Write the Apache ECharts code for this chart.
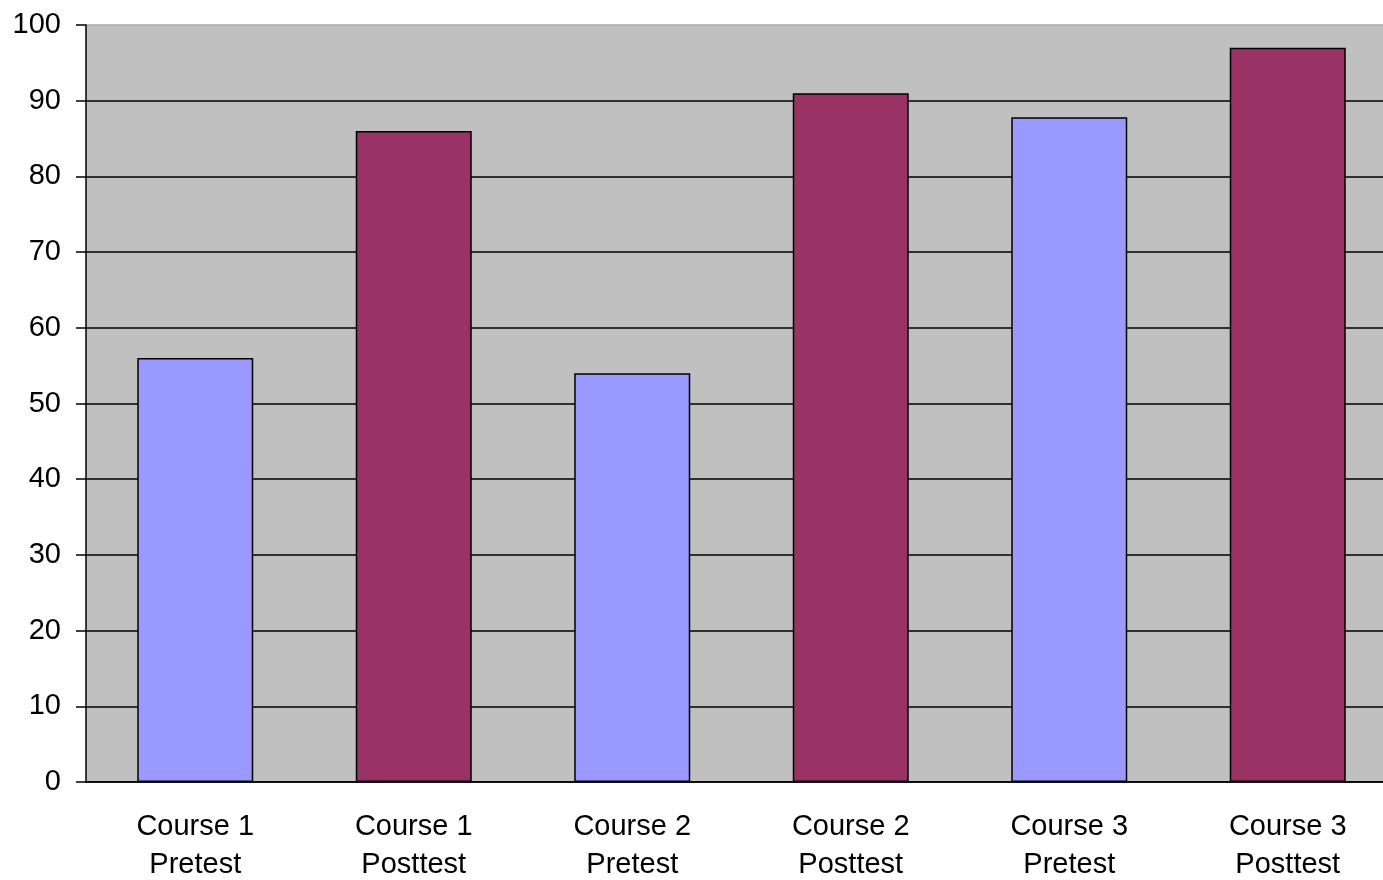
<!DOCTYPE html>
<html>
<head>
<meta charset="utf-8">
<script src="https://cdn.jsdelivr.net/npm/echarts@6/dist/echarts.min.js"></script>
<style>
  html, body { margin: 0; padding: 0; background: #ffffff; }
  #chart { width: 1383px; height: 880px; }
</style>
</head>
<body>
<div id="chart"></div>
<script>
// Test scores per course, before and after
const categories = [
  'Course 1\nPretest', 'Course 1\nPosttest',
  'Course 2\nPretest', 'Course 2\nPosttest',
  'Course 3\nPretest', 'Course 3\nPosttest'
];
const scores = [56, 86, 54, 91, 87.8, 97];
const yTicks = [0, 10, 20, 30, 40, 50, 60, 70, 80, 90, 100];

// Pretest bars in periwinkle, posttest bars in plum
const barColors = ['#9999ff', '#993366'];
const font = '"Liberation Sans", Arial, sans-serif';

const chart = echarts.init(document.getElementById('chart'));
chart.setOption({
  animation: false,
  backgroundColor: '#ffffff',
  grid: {
    left: 86, top: 25, width: 1311, height: 757,
    outerBoundsMode: 'none', containLabel: false,
    show: true, backgroundColor: '#c0c0c0', borderWidth: 0
  },
  xAxis: {
    type: 'category',
    data: categories,
    axisLine: { lineStyle: { color: '#000', width: 1.5 } },
    axisTick: { length: 10, lineStyle: { color: '#000', width: 1.5 } },
    axisLabel: {
      color: '#000', fontFamily: font, fontSize: 29,
      lineHeight: 38, margin: 26, interval: 0
    }
  },
  yAxis: {
    type: 'value',
    min: yTicks[0], max: yTicks[yTicks.length - 1], interval: 10,
    axisLine: { show: true, lineStyle: { color: '#000', width: 1.5 } },
    axisTick: { show: true, length: 10, lineStyle: { color: '#000', width: 1.5 } },
    axisLabel: { color: '#000', fontFamily: font, fontSize: 29, margin: 25 },
    splitLine: {
      show: true,
      lineStyle: {
        color: yTicks.map(v => (v === 100 ? '#a8a8a8' : '#000')),
        width: 1.5
      }
    }
  },
  series: [{
    type: 'bar',
    data: scores.map((v, i) => ({
      value: v,
      itemStyle: { color: barColors[i % 2] }
    })),
    barWidth: 116,
    itemStyle: { borderColor: '#000', borderWidth: 1.5 }
  }]
});
</script>
</body>
</html>
